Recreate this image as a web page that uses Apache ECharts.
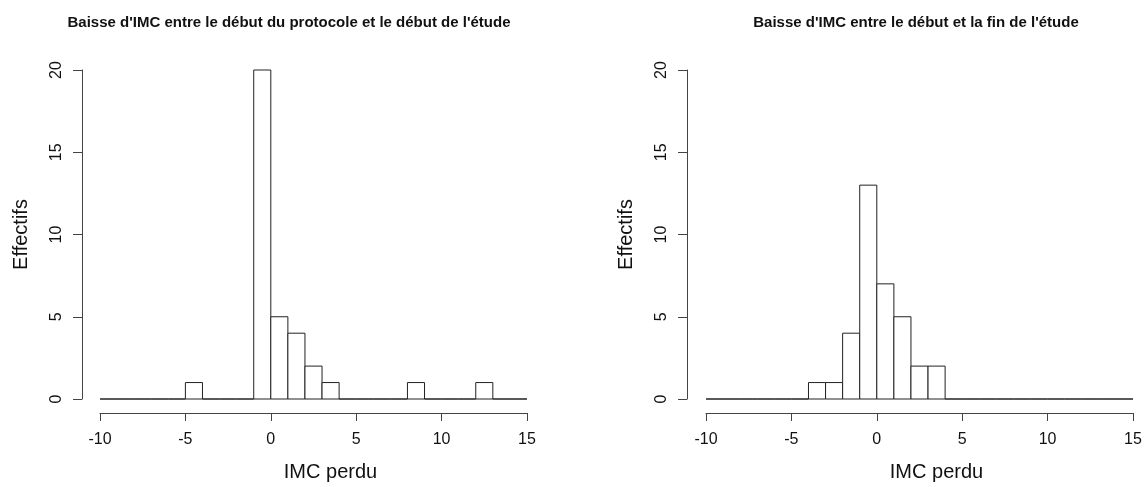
<!DOCTYPE html>
<html>
<head>
<meta charset="utf-8">
<script src="https://cdn.jsdelivr.net/npm/echarts@6/dist/echarts.min.js"></script>
<style>
html,body{margin:0;padding:0;background:#fff;}
#chart{width:1148px;height:487px;}
</style>
</head>
<body>
<div id="chart"></div>
<script>
// Bin edges (width 1) shared by both histograms
var binEdges = [-10,-9,-8,-7,-6,-5,-4,-3,-2,-1,0,1,2,3,4,5,6,7,8,9,10,11,12,13,14,15];
// Counts per bin: début du protocole -> début de l'étude
var countsLeft  = [0,0,0,0,0,1,0,0,0,20,5,4,2,1,0,0,0,0,1,0,0,0,1,0,0];
// Counts per bin: début -> fin de l'étude
var countsRight = [0,0,0,0,0,0,1,1,4,13,7,5,2,2,0,0,0,0,0,0,0,0,0,0,0];
var titleLeft  = "Baisse d'IMC entre le début du protocole et le début de l'étude";
var titleRight = "Baisse d'IMC entre le début et la fin de l'étude";
var xLabel = "IMC perdu";
var yLabel = "Effectifs";

function toBins(counts){
  var out = [];
  for (var i = 0; i < counts.length; i++) out.push([binEdges[i], binEdges[i+1], counts[i]]);
  return out;
}
function renderItem(params, api){
  var p0 = api.coord([api.value(0), api.value(2)]);
  var p1 = api.coord([api.value(1), 0]);
  return {
    type: 'rect',
    shape: {x: p0[0], y: p0[1], width: p1[0]-p0[0], height: p1[1]-p0[1]},
    style: {fill: '#fff', stroke: '#222', lineWidth: 1}
  };
}
var FONT = '"Liberation Sans", Arial, Helvetica, sans-serif';
var axisCol = '#444';
function xAx(idx){
  return {
    type: 'value', gridIndex: idx, min: -10, max: 15, interval: 5,
    offset: 14,
    axisLine: {show: true, onZero: false, lineStyle: {color: axisCol, width: 1}},
    axisTick: {show: true, length: 8, lineStyle: {color: axisCol}},
    axisLabel: {fontFamily: FONT, fontSize: 16, color: '#111', margin: 19},
    splitLine: {show: false},
    name: xLabel, nameLocation: 'middle', nameGap: 49,
    nameTextStyle: {fontFamily: FONT, fontSize: 20, color: '#111', padding: [0,0,0,34]}
  };
}
function yAx(idx, off){
  return {
    type: 'value', gridIndex: idx, min: 0, max: 20, interval: 5,
    offset: off,
    axisLine: {show: true, onZero: false, lineStyle: {color: axisCol, width: 1}},
    axisTick: {show: true, length: 9, lineStyle: {color: axisCol}},
    axisLabel: {fontFamily: FONT, fontSize: 16, color: '#111', margin: 17, rotate: 90},
    splitLine: {show: false},
    name: yLabel, nameLocation: 'middle', nameGap: 51, nameRotate: 90,
    nameTextStyle: {fontFamily: FONT, fontSize: 20, color: '#111'}
  };
}
var chart = echarts.init(document.getElementById('chart'));
chart.setOption({
  animation: false,
  backgroundColor: '#fff',
  title: [
    {text: titleLeft, left: 289, top: 15, textAlign: 'center', padding: 0,
     textStyle: {fontFamily: FONT, fontSize: 15, fontWeight: 'bold', color: '#111'}},
    {text: titleRight, left: 916, top: 15, textAlign: 'center', padding: 0,
     textStyle: {fontFamily: FONT, fontSize: 15, fontWeight: 'bold', color: '#111'}}
  ],
  grid: [
    {left: 100, top: 70, width: 427, height: 334},
    {left: 706, top: 70, width: 427, height: 334}
  ],
  xAxis: [xAx(0), xAx(1)],
  yAxis: [yAx(0, 18), yAx(1, 19)],
  series: [
    {type: 'custom', xAxisIndex: 0, yAxisIndex: 0, renderItem: renderItem,
     encode: {x: [0,1], y: 2}, data: toBins(countsLeft)},
    {type: 'custom', xAxisIndex: 1, yAxisIndex: 1, renderItem: renderItem,
     encode: {x: [0,1], y: 2}, data: toBins(countsRight)}
  ]
});
</script>
</body>
</html>
